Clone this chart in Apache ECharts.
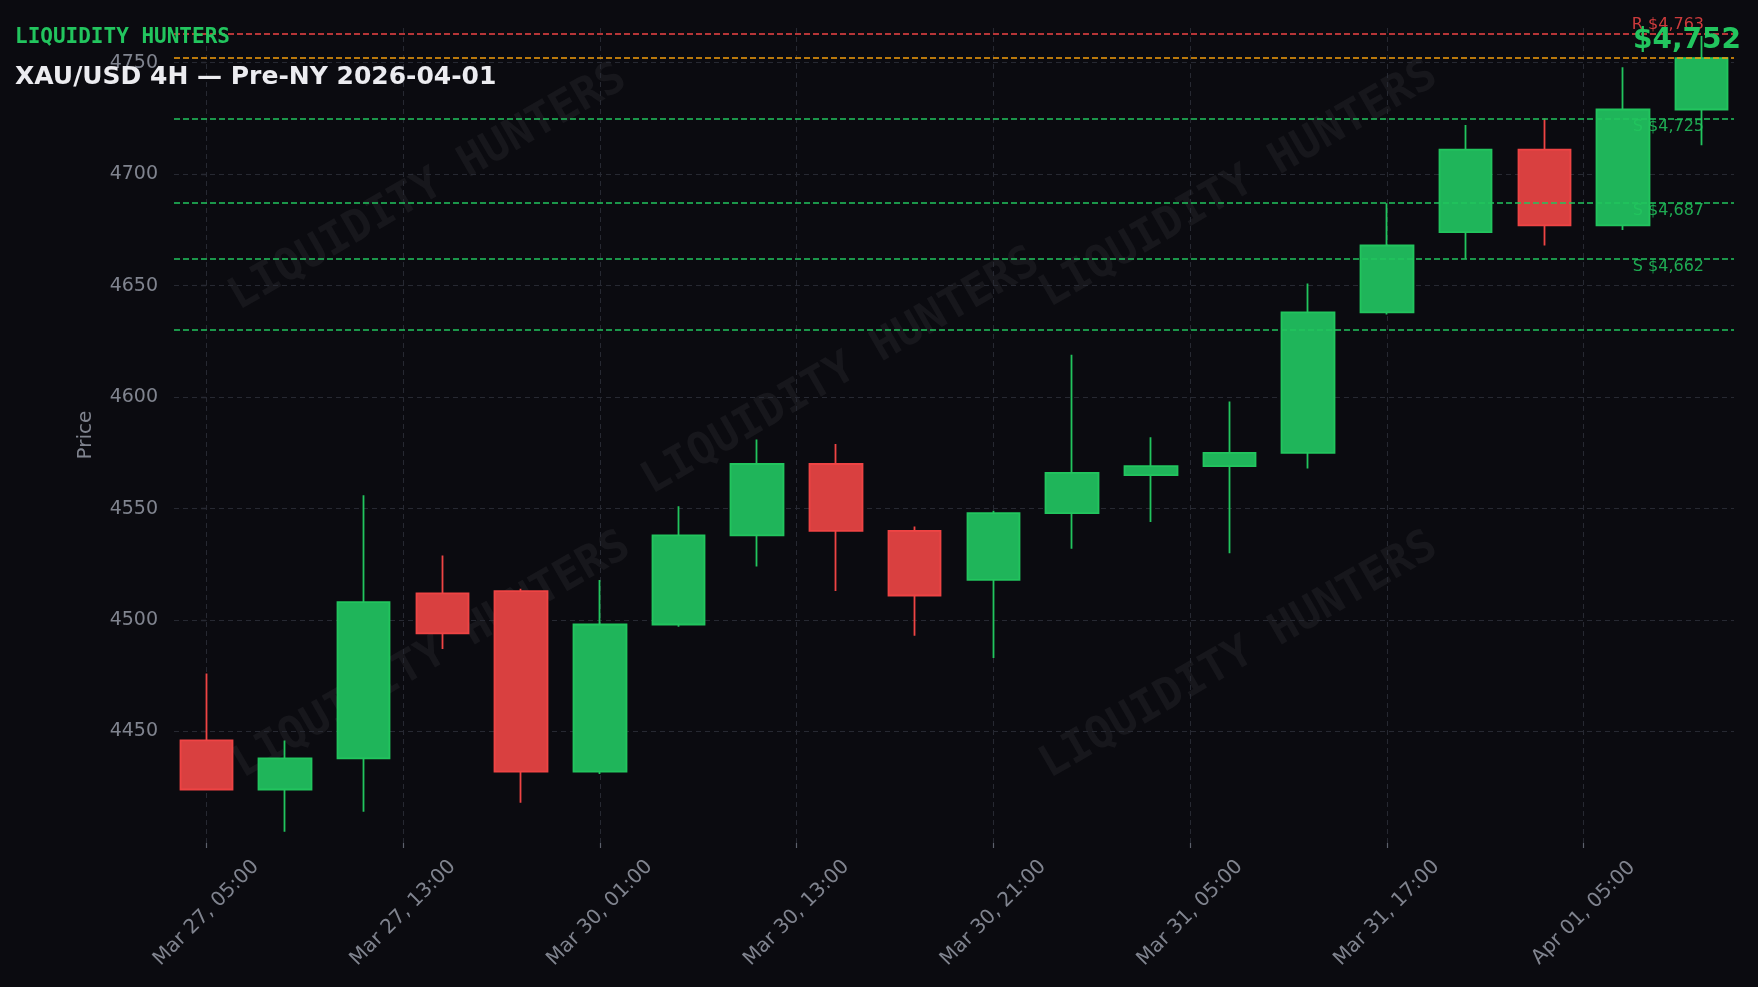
<!DOCTYPE html>
<html>
<head>
<meta charset="utf-8">
<script src="https://cdn.jsdelivr.net/npm/echarts@6/dist/echarts.min.js"></script>
<style>
html,body{margin:0;padding:0;background:#0b0b10;}
#chart{width:1758px;height:987px;}
</style>
</head>
<body>
<div id="chart"></div>
<script>
// ---- data ----
const candleX = [0,1,2,3,4,5,6,7,8,9,10,11,12,13,14,15,16,17,18,19];
const opens  = [4446,4424,4438,4512,4513,4432,4498,4538,4570,4540,4518,4548,4565,4569,4575,4638,4674,4711,4677,4729];
const closes = [4424,4438,4508,4494,4432,4498,4538,4570,4540,4511,4548,4566,4569,4575,4638,4668,4711,4677,4729,4752];
const lows   = [4424,4405,4414,4487,4418,4431,4497,4524,4513,4493,4483,4532,4544,4530,4568,4637,4662,4668,4675,4713];
const highs  = [4476,4446,4556,4529,4514,4518,4551,4581,4579,4542,4549,4619,4582,4598,4651,4687,4722,4725,4748,4762];
const tickPositions = [0, 2.5, 5, 7.5, 10, 12.5, 15, 17.5];
const tickLabels = ['Mar 27, 05:00','Mar 27, 13:00','Mar 30, 01:00','Mar 30, 13:00','Mar 30, 21:00','Mar 31, 05:00','Mar 31, 17:00','Apr 01, 05:00'];
const priceTicks = [4450, 4500, 4550, 4600, 4650, 4700, 4750];
const resistanceLevels = [4763];
const supportLevels = [4725, 4687, 4662];
const unlabeledSupport = [4630];
const currentPrice = 4752;

// ---- build ----
const GREEN = '#22c55e', RED = '#ef4444', ORANGE = '#f59e0b', GREY = '#80848f', GRID = '#272932';
const fmtUSD = v => '$' + v.toLocaleString('en-US');
const candleData = candleX.map((x, i) => [x, opens[i], closes[i], lows[i], highs[i]]);

const levelLines = [];
resistanceLevels.forEach(v => levelLines.push({
  yAxis: v, lineStyle: {color: RED},
  label: {show: true, formatter: 'R ' + fmtUSD(v), position: 'insideEndTop', distance: [30, 1],
          color: 'rgba(239,68,68,0.85)', fontSize: 16, fontFamily: 'DejaVu Sans'}
}));
levelLines.push({
  yAxis: currentPrice, lineStyle: {color: ORANGE},
  label: {show: true, formatter: fmtUSD(currentPrice), position: 'insideEndTop', distance: [-7, 3],
          color: GREEN, fontSize: 28, fontWeight: 'bold', fontFamily: 'DejaVu Sans'}
});
supportLevels.forEach(v => levelLines.push({
  yAxis: v, lineStyle: {color: GREEN},
  label: {show: true, formatter: 'S ' + fmtUSD(v), position: 'insideEndBottom', distance: [30, 0],
          color: 'rgba(34,197,94,0.85)', fontSize: 16, fontFamily: 'DejaVu Sans'}
}));
unlabeledSupport.forEach(v => levelLines.push({
  yAxis: v, lineStyle: {color: GREEN}, label: {show: false}
}));

const gridLines = priceTicks.map(v => ({yAxis: v})).concat(tickPositions.map(v => ({xAxis: v})));

const wmStyle = {text: 'LIQUIDITY HUNTERS', fontFamily: 'DejaVu Sans Mono', fontWeight: 'bold', fontSize: 44,
                 fill: 'rgba(255,255,255,0.05)', align: 'center', verticalAlign: 'middle'};
const wmCenters = [[428,188],[432,656],[841,372],[1239,185],[1239,656]];

const chart = echarts.init(document.getElementById('chart'), null, {renderer: 'canvas'});
chart.setOption({
  backgroundColor: '#0b0b10',
  animation: false,
  textStyle: {fontFamily: 'DejaVu Sans'},
  grid: {left: 174, right: 24, top: 27, bottom: 144, containLabel: false},
  graphic: wmCenters.map(c => ({type: 'text', x: c[0], y: c[1], rotation: Math.PI / 6, z: 0, silent: true, style: wmStyle}))
    .concat([
      {type: 'text', x: 15, y: 38, z: 10, style: {text: 'LIQUIDITY HUNTERS', fontFamily: 'DejaVu Sans Mono', fontWeight: 'bold',
        fontSize: 21, fill: GREEN, verticalAlign: 'middle'}},
      {type: 'text', x: 15, y: 77, z: 10, style: {text: 'XAU/USD 4H \u2014 Pre-NY 2026-04-01', fontFamily: 'DejaVu Sans', fontWeight: 'bold',
        fontSize: 25, fill: '#ececf0', verticalAlign: 'middle'}}
    ]),
  xAxis: {
    type: 'value', min: -0.41, max: 19.41,
    axisLine: {show: false},
    splitLine: {show: false},
    axisTick: {show: true, customValues: tickPositions, length: 5, lineStyle: {color: '#5d616c', width: 1.2}},
    axisLabel: {
      customValues: tickPositions, interval: 0, rotate: 45, align: 'center', verticalAlign: 'middle', margin: 70,
      color: GREY, fontSize: 20, fontFamily: 'DejaVu Sans',
      formatter: v => { const k = tickPositions.findIndex(t => Math.abs(t - v) < 1e-6); return k >= 0 ? tickLabels[k] : ''; }
    }
  },
  yAxis: {
    type: 'value', min: 4400, max: 4766, interval: 50, scale: true,
    name: 'Price', nameLocation: 'middle', nameGap: 78,
    nameTextStyle: {color: GREY, fontSize: 20, fontFamily: 'DejaVu Sans'},
    axisLine: {show: false},
    splitLine: {show: false},
    axisTick: {show: true, customValues: priceTicks, length: 5, lineStyle: {color: '#5d616c', width: 1.2}},
    axisLabel: {customValues: priceTicks, color: GREY, fontSize: 19, margin: 16, fontFamily: 'DejaVu Sans',
                formatter: v => String(v)}
  },
  series: [
    {
      type: 'line', data: [], silent: true,
      markLine: {
        z: 1, silent: true, symbol: ['none', 'none'], label: {show: false},
        lineStyle: {color: GRID, width: 1, type: [5, 4]},
        data: gridLines
      }
    },
    {
      type: 'candlestick',
      data: candleData,
      encode: {x: 0, y: [1, 2, 3, 4]},
      barWidth: 53,
      z: 3,
      itemStyle: {color: '#1fb55a', color0: '#d94040', borderColor: GREEN, borderColor0: RED, borderWidth: 1.8},
      markLine: {
        z: 5, silent: true, symbol: ['none', 'none'],
        lineStyle: {width: 1.5, type: [6, 3]},
        data: levelLines
      }
    }
  ]
});
</script>
</body>
</html>
